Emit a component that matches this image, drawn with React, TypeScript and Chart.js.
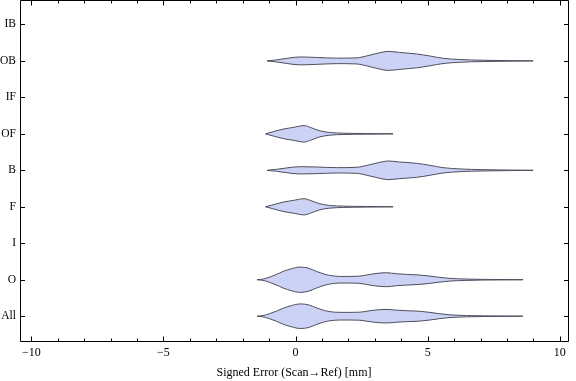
import { useEffect, useRef } from 'react';
import { Chart, registerables } from 'chart.js';

Chart.register(...registerables);

// Categories from bottom (1) to top (9)
const categories = ['All', 'O', 'I', 'F', 'B', 'OF', 'IF', 'OB', 'IB'];
const xTickValues = [-10, -5, 0, 5, 10];

// Violin profiles: x positions (mm) and half-widths (in category units)
const xAll = [-1.46, -1.23, -0.98, -0.72, -0.47, -0.16, 0.18, 0.5, 0.8, 1.05, 1.3, 1.67, 2.05, 2.43, 2.81, 3.19, 3.5, 3.82, 4.2, 4.7, 5.08, 5.46, 5.84, 6.47, 7.1, 8.6];
const hwAll = [0, 0.018, 0.07, 0.14, 0.22, 0.29, 0.337, 0.31, 0.225, 0.165, 0.125, 0.105, 0.105, 0.11, 0.15, 0.18, 0.185, 0.165, 0.15, 0.135, 0.105, 0.066, 0.038, 0.018, 0.009, 0];

const xO = [-1.46, -1.23, -0.98, -0.72, -0.47, -0.16, 0.16, 0.47, 0.79, 1.04, 1.29, 1.67, 2.05, 2.43, 2.81, 3.19, 3.44, 3.82, 4.2, 4.7, 5.08, 5.46, 5.84, 6.47, 7.1, 8.61];
const hwO = [0, 0.018, 0.073, 0.146, 0.228, 0.301, 0.347, 0.32, 0.228, 0.164, 0.119, 0.091, 0.091, 0.1, 0.146, 0.183, 0.192, 0.164, 0.146, 0.128, 0.1, 0.064, 0.037, 0.018, 0.009, 0];

const xF = [-1.14, -0.85, -0.47, -0.09, 0.32, 0.6, 0.92, 1.29, 1.8, 2.68, 3.69];
const hwF = [0, 0.055, 0.128, 0.174, 0.222, 0.164, 0.082, 0.037, 0.018, 0.009, 0];

const xB = [-1.08, -0.72, -0.35, 0.16, 0.79, 1.55, 2.3, 2.81, 3.19, 3.5, 3.94, 4.58, 5.08, 5.58, 6.22, 7.1, 8.99];
const hwB = [0, 0.027, 0.064, 0.1, 0.091, 0.073, 0.082, 0.155, 0.219, 0.256, 0.228, 0.192, 0.137, 0.073, 0.037, 0.018, 0];

const xOF = [-1.14, -0.85, -0.47, -0.09, 0.32, 0.6, 0.92, 1.29, 1.8, 2.68, 3.69];
const hwOF = [0, 0.058, 0.13, 0.176, 0.226, 0.165, 0.083, 0.037, 0.018, 0.009, 0];

const xOB = [-1.08, -0.72, -0.35, 0.16, 0.79, 1.55, 2.3, 2.81, 3.19, 3.5, 3.94, 4.58, 5.08, 5.58, 6.22, 7.1, 8.99];
const hwOB = [0, 0.028, 0.068, 0.108, 0.095, 0.075, 0.083, 0.158, 0.225, 0.262, 0.232, 0.19, 0.135, 0.072, 0.037, 0.018, 0];

const violins = [
  { cat: 'All', xs: xAll, hw: hwAll },
  { cat: 'O', xs: xO, hw: hwO },
  { cat: 'F', xs: xF, hw: hwF },
  { cat: 'B', xs: xB, hw: hwB },
  { cat: 'OF', xs: xOF, hw: hwOF },
  { cat: 'OB', xs: xOB, hw: hwOB },
];

const FONT = "'Liberation Serif', 'DejaVu Serif', serif";
const FILL = 'rgb(204,210,246)';
const EDGE = 'rgb(78,78,92)';

const framePlugin = {
  id: 'frameTicks',
  afterDraw(chart: any) {
    const { ctx, chartArea } = chart;
    const xs = chart.scales.x;
    const ys = chart.scales.y;
    const l = chartArea.left + 0.5;
    const r = chartArea.right + 0.5;
    const t = chartArea.top + 0.5;
    const b = chartArea.bottom + 0.5;
    ctx.save();
    ctx.strokeStyle = '#000';
    ctx.lineWidth = 1;
    ctx.beginPath();
    ctx.rect(l, t, r - l, b - t);
    ctx.stroke();
    ctx.beginPath();
    for (let v = -10; v <= 10; v++) {
      const px = Math.round(xs.getPixelForValue(v)) + 0.5;
      const len = v % 5 === 0 ? 5 : 3;
      ctx.moveTo(px, b);
      ctx.lineTo(px, b - len);
      ctx.moveTo(px, t);
      ctx.lineTo(px, t + len);
    }
    categories.forEach((_, i) => {
      const py = Math.round(ys.getPixelForValue(i + 1)) + 0.5;
      ctx.moveTo(l, py);
      ctx.lineTo(l + 4.5, py);
      ctx.moveTo(r, py);
      ctx.lineTo(r - 4.5, py);
    });
    ctx.stroke();
    ctx.restore();
  },
};

export default function App() {
  const ref = useRef<HTMLCanvasElement | null>(null);

  useEffect(() => {
    if (!ref.current) return;
    const datasets: any[] = [];
    violins.forEach((v) => {
      const center = categories.indexOf(v.cat) + 1;
      const upper = v.xs.map((x, i) => ({ x, y: center + v.hw[i] }));
      const lower = v.xs.map((x, i) => ({ x, y: center - v.hw[i] }));
      datasets.push({
        data: upper,
        borderColor: EDGE,
        borderWidth: 1,
        pointRadius: 0,
        fill: false,
        cubicInterpolationMode: 'monotone',
      });
      datasets.push({
        data: lower,
        borderColor: EDGE,
        borderWidth: 1,
        pointRadius: 0,
        fill: '-1',
        backgroundColor: FILL,
        cubicInterpolationMode: 'monotone',
      });
    });

    const chart = new Chart(ref.current, {
      type: 'line',
      data: { datasets },
      options: {
        animation: false,
        responsive: false,
        devicePixelRatio: 1,
        layout: { padding: { top: 0, right: 8, left: 0, bottom: 0 } },
        plugins: {
          legend: { display: false },
          tooltip: { enabled: false },
          filler: { drawTime: 'beforeDatasetsDraw' },
        },
        scales: {
          x: {
            type: 'linear',
            min: -10.43,
            max: 10.31,
            grid: { display: false, drawTicks: false },
            border: { display: false },
            afterBuildTicks: (s: any) => {
              s.ticks = xTickValues.map((value) => ({ value }));
            },
            afterFit: (s: any) => {
              s.height = 40;
              s.paddingLeft = 0;
              s.paddingRight = 0;
            },
            ticks: {
              autoSkip: false,
              maxRotation: 0,
              padding: 5,
              color: '#000',
              font: { family: FONT, size: 12 },
              callback: (v: any) => (v < 0 ? '\u2212' + Math.abs(v) : String(v)),
            },
            title: {
              display: true,
              text: 'Signed Error (Scan\u2192Ref) [mm]',
              color: '#000',
              font: { family: FONT, size: 12 },
              padding: { top: 0, bottom: 1 },
            },
          },
          y: {
            type: 'linear',
            min: 0.32,
            max: 9.67,
            grid: { display: false, drawTicks: false },
            border: { display: false },
            afterBuildTicks: (s: any) => {
              s.ticks = categories.map((_, i) => ({ value: i + 1 }));
            },
            afterFit: (s: any) => {
              s.width = 20;
              s.paddingTop = 0;
              s.paddingBottom = 0;
            },
            ticks: {
              autoSkip: false,
              padding: 4,
              color: '#000',
              font: { family: FONT, size: 11.5 },
              callback: (v: any) => categories[Number(v) - 1] ?? '',
            },
          },
        },
      },
      plugins: [framePlugin],
    } as any);

    return () => chart.destroy();
  }, []);

  return (
    <div style={{ position: 'absolute', left: 0, top: 0, width: 576, height: 381, background: '#fff' }}>
      <canvas ref={ref} width={576} height={381} />
    </div>
  );
}
